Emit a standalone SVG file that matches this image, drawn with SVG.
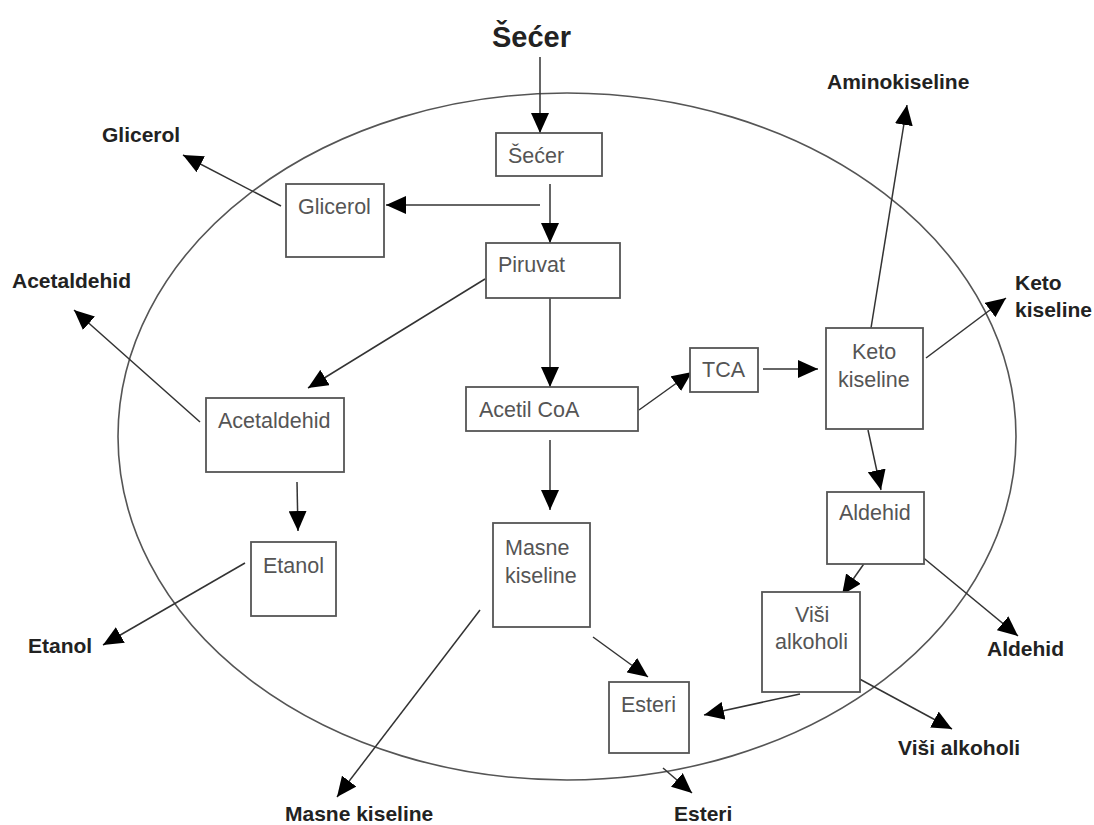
<svg xmlns="http://www.w3.org/2000/svg" width="1094" height="825" viewBox="0 0 1094 825">
<style>
.box{fill:#fff;stroke:#555;stroke-width:1.8}
.in{font-family:"Liberation Sans",Arial,sans-serif;font-size:21.5px;fill:#555}
.out{font-family:"Liberation Sans",Arial,sans-serif;font-size:21px;font-weight:bold;fill:#222}
.ln{stroke:#333;stroke-width:1.5;fill:none;marker-end:url(#ah)}
</style>
<defs>
<marker id="ah" markerUnits="userSpaceOnUse" markerWidth="20" markerHeight="18" viewBox="0 0 20 18" refX="20" refY="9" orient="auto">
<path d="M0,0 L20,9 L0,18 z" fill="#000"/>
</marker>
</defs>
<rect width="1094" height="825" fill="#fff"/>
<ellipse id="cell" cx="567" cy="436.5" rx="449" ry="343.5" fill="none" stroke="#555" stroke-width="1.6"/>
<g id="connectors">
<line class="ln" x1="540" y1="57" x2="540" y2="133"/>
<line class="ln" x1="550" y1="184" x2="550" y2="243"/>
<line class="ln" x1="540" y1="205" x2="386" y2="205"/>
<line class="ln" x1="281" y1="206" x2="183" y2="155"/>
<line class="ln" x1="485" y1="279" x2="308" y2="388"/>
<line class="ln" x1="200" y1="422" x2="74" y2="310"/>
<line class="ln" x1="297" y1="482" x2="298" y2="531"/>
<line class="ln" x1="245" y1="563" x2="103" y2="645"/>
<line class="ln" x1="550" y1="298" x2="550" y2="387"/>
<line class="ln" x1="639" y1="410" x2="692" y2="372"/>
<line class="ln" x1="550" y1="440" x2="550" y2="510"/>
<line class="ln" x1="763" y1="369" x2="818" y2="369"/>
<line class="ln" x1="871" y1="328" x2="907" y2="105"/>
<line class="ln" x1="926" y1="358" x2="1006" y2="298"/>
<line class="ln" x1="868" y1="430" x2="881" y2="490"/>
<line class="ln" x1="868" y1="558" x2="842" y2="595"/>
<line class="ln" x1="920" y1="555" x2="1018" y2="636"/>
<line class="ln" x1="800" y1="694" x2="704" y2="715"/>
<line class="ln" x1="854" y1="676" x2="952" y2="729"/>
<line class="ln" x1="593" y1="637" x2="648" y2="677"/>
<line class="ln" x1="480" y1="610" x2="337" y2="797"/>
<line class="ln" x1="663" y1="768" x2="692" y2="793"/>
</g>
<g id="title"><text class="out" x="492" y="47" style="font-size:29px">Šećer</text></g>
<g id="secer"><rect class="box" x="496" y="133" width="106" height="43"/><text class="in" x="508" y="163">Šećer</text></g>
<g id="glicerol"><rect class="box" x="286" y="184" width="98" height="73"/><text class="in" x="298" y="214">Glicerol</text></g>
<g id="piruvat"><rect class="box" x="486" y="243" width="134" height="55"/><text class="in" x="498" y="272">Piruvat</text></g>
<g id="acetaldehid"><rect class="box" x="206" y="398" width="138" height="74"/><text class="in" x="218" y="428">Acetaldehid</text></g>
<g id="etanol"><rect class="box" x="251" y="542" width="85" height="74"/><text class="in" x="263" y="573">Etanol</text></g>
<g id="acetilcoa"><rect class="box" x="466" y="387" width="172" height="44"/><text class="in" x="479" y="417">Acetil CoA</text></g>
<g id="tca"><rect class="box" x="690" y="348" width="68" height="44"/><text class="in" x="702" y="377">TCA</text></g>
<g id="keto"><rect class="box" x="826" y="328" width="97" height="101"/><text class="in" x="852" y="359">Keto</text><text class="in" x="838" y="387">kiseline</text></g>
<g id="aldehid"><rect class="box" x="827" y="492" width="97" height="72"/><text class="in" x="839" y="520">Aldehid</text></g>
<g id="visi"><rect class="box" x="762" y="592" width="98" height="100"/><text class="in" x="795" y="622">Viši</text><text class="in" x="775" y="649">alkoholi</text></g>
<g id="masne"><rect class="box" x="493" y="523" width="97" height="104"/><text class="in" x="505" y="555">Masne</text><text class="in" x="505" y="583">kiseline</text></g>
<g id="esteri"><rect class="box" x="609" y="682" width="80" height="71"/><text class="in" x="621" y="712">Esteri</text></g>
<g id="out-labels">
<text class="out" x="102" y="142">Glicerol</text>
<text class="out" x="12" y="288">Acetaldehid</text>
<text class="out" x="28" y="653">Etanol</text>
<text class="out" x="285" y="821">Masne kiseline</text>
<text class="out" x="674" y="821">Esteri</text>
<text class="out" x="898" y="755">Viši alkoholi</text>
<text class="out" x="987" y="656">Aldehid</text>
<text class="out" x="1015" y="290">Keto</text>
<text class="out" x="1015" y="317">kiseline</text>
<text class="out" x="827" y="89">Aminokiseline</text>
</g>
</svg>
